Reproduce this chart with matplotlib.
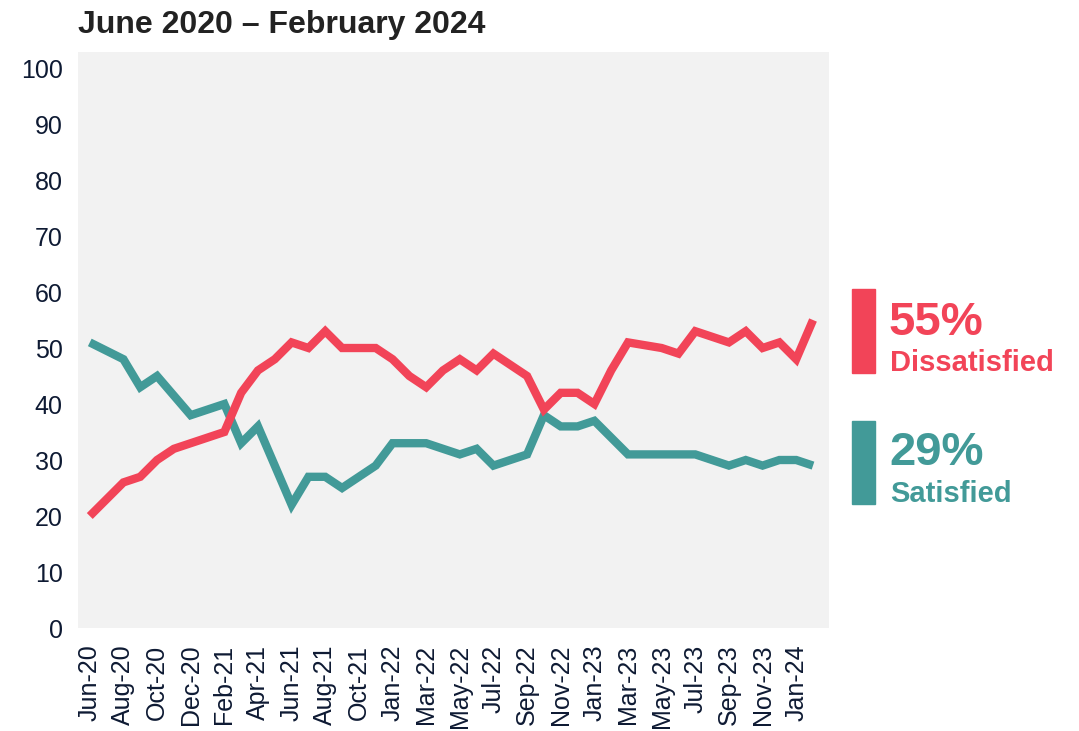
import matplotlib
matplotlib.use("Agg")
import matplotlib.pyplot as plt
from matplotlib.patches import Rectangle

plt.rcParams["font.family"] = ["Liberation Sans", "DejaVu Sans"]

# ---------------------------------------------------------------------------
# data
# ---------------------------------------------------------------------------
months = [
    "Jun-20", "Jul-20", "Aug-20", "Sep-20", "Oct-20", "Nov-20", "Dec-20",
    "Jan-21", "Feb-21", "Mar-21", "Apr-21", "May-21", "Jun-21", "Jul-21",
    "Aug-21", "Sep-21", "Oct-21", "Nov-21", "Jan-22", "Feb-22", "Mar-22",
    "Apr-22", "May-22", "Jun-22", "Jul-22", "Aug-22", "Sep-22", "Oct-22",
    "Nov-22", "Dec-22", "Jan-23", "Feb-23", "Mar-23", "Apr-23", "May-23",
    "Jun-23", "Jul-23", "Aug-23", "Sep-23", "Oct-23", "Nov-23", "Dec-23",
    "Jan-24", "Feb-24",
]

dissatisfied = [
    20, 23, 26, 27, 30, 32, 33, 34, 35, 42, 46, 48, 51, 50, 53, 50, 50, 50,
    48, 45, 43, 46, 48, 46, 49, 47, 45, 39, 42, 42, 40, 46, 51, 50.5, 50, 49,
    53, 52, 51, 53, 50, 51, 48, 55,
]

satisfied = [
    51, 49.5, 48, 43, 45, 41.5, 38, 39, 40, 33, 36, 29, 22, 27, 27, 25, 27, 29,
    33, 33, 33, 32, 31, 32, 29, 30, 31, 38, 36, 36, 37, 34, 31, 31, 31, 31,
    31, 30, 29, 30, 29, 30, 30, 29,
]

RED = "#F24458"
TEAL = "#429A98"
INK = "#0E1A33"

# ---------------------------------------------------------------------------
# figure
# ---------------------------------------------------------------------------
W, H = 1079, 731
fig = plt.figure(figsize=(W / 100, H / 100), dpi=100)
ax = fig.add_axes([78 / W, 1 - 628 / H, (829 - 78) / W, (628 - 52) / H])
ax.set_facecolor("#F2F2F2")

x = list(range(len(months)))
ax.plot(x, satisfied, color=TEAL, lw=6, solid_joinstyle="miter", solid_capstyle="butt")
ax.plot(x, dissatisfied, color=RED, lw=6, solid_joinstyle="miter", solid_capstyle="butt")

ax.set_xlim(-0.7, 43.95)
ax.set_ylim(0, 102.86)
ax.set_yticks(range(0, 101, 10))
ax.set_xticks(x[::2])
ax.set_xticklabels(months[::2], rotation=90)
ax.tick_params(length=0, labelsize=18, colors=INK)
ax.tick_params(axis="y", pad=11)
ax.tick_params(axis="x", pad=12)
for s in ax.spines.values():
    s.set_visible(False)

fig.text(78 / W, 1 - 33 / H, "June 2020 \u2013 February 2024", fontsize=23,
         fontweight="bold", color="#222222", ha="left", va="baseline")

# right-hand call-outs
def px(xp, yp):
    return xp / W, 1 - yp / H

for col, top, bot, big, small, big_base, small_base in [
    (RED, 289, 373, "55%", "Dissatisfied", 335, 371),
    (TEAL, 421, 504, "29%", "Satisfied", 465, 502),
]:
    fig.patches.append(Rectangle(px(852, bot), 23 / W, (bot - top) / H,
                                 transform=fig.transFigure, color=col))
    fig.text(*px(889, big_base), big, fontsize=34, fontweight="bold",
             color=col, va="baseline")
    fig.text(*px(890, small_base), small, fontsize=21, fontweight="bold",
             color=col, va="baseline")

fig.savefig("out.png", dpi=100)
